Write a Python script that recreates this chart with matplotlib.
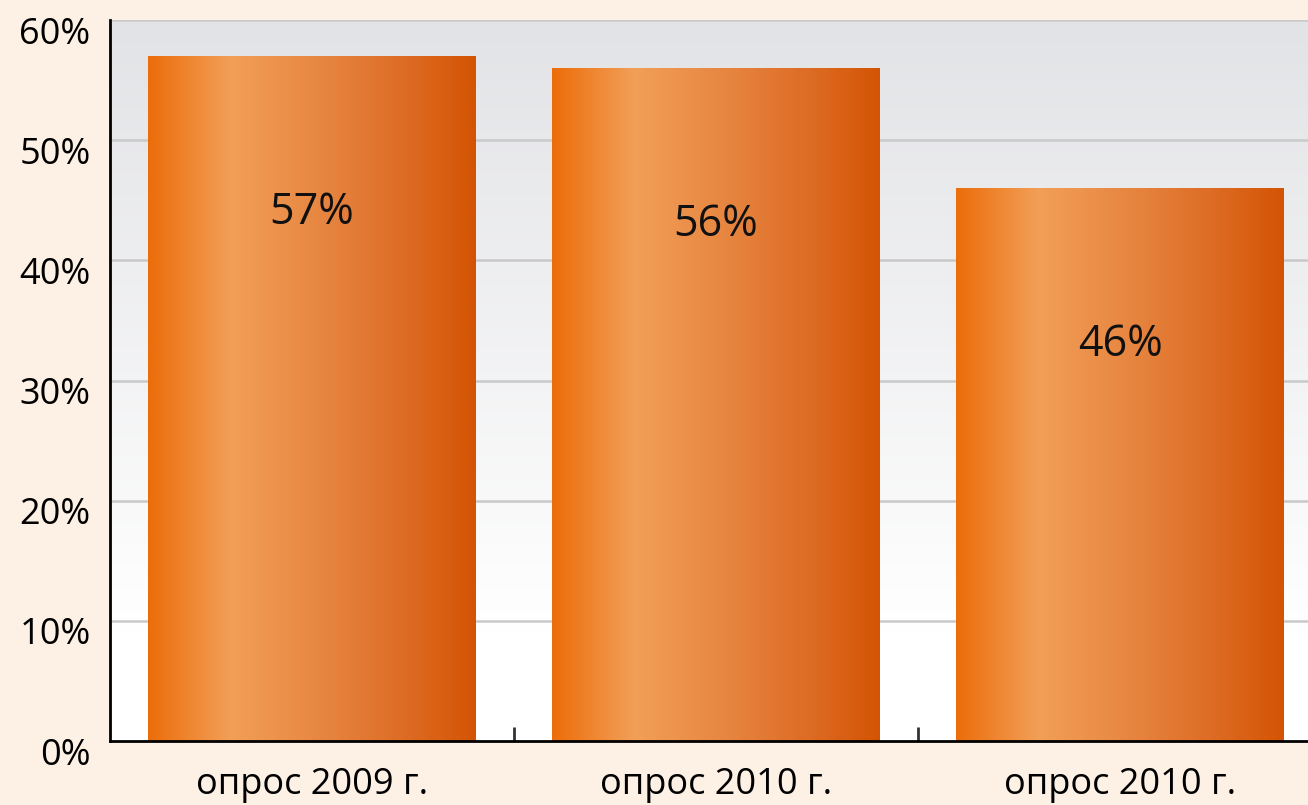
import numpy as np
import matplotlib.pyplot as plt
import matplotlib.transforms as mtransforms
from matplotlib.colors import LinearSegmentedColormap
from matplotlib.patches import Rectangle

categories = ['опрос 2009 г.', 'опрос 2010 г.', 'опрос 2010 г.']
values = [57, 56, 46]
value_labels = ['57%', '56%', '46%']
yticks = [0, 10, 20, 30, 40, 50, 60]
ytick_labels = ['0%', '10%', '20%', '30%', '40%', '50%', '60%']

plt.rcParams['font.family'] = ['Open Sans', 'DejaVu Sans']

fig = plt.figure(figsize=(13.08, 8.05), dpi=100, facecolor='#fdf0e5')
ax = fig.add_axes([0.0841, 0.0795, 0.9159, 0.8955])
ax.set_xlim(-0.5, 2.465)
ax.set_ylim(0, 60)

# plot area gradient: gray at top, white near bottom
bg = LinearSegmentedColormap.from_list('bg', [(0, '#ffffff'), (0.15, '#ffffff'), (1, '#e2e3e6')])
grad = np.linspace(0, 1, 256).reshape(-1, 1)
ax.imshow(grad, cmap=bg, aspect='auto', extent=(-0.5, 2.465, 0, 60), origin='lower', zorder=0)

for y in yticks[1:]:
    ax.axhline(y, color='#c9c9c9', lw=1.8, zorder=1)

# bars with horizontal gradient
bar_cm = LinearSegmentedColormap.from_list('bar', [
    (0, '#ec6d0a'), (0.25, '#f29f58'), (0.55, '#e6843f'), (0.8, '#dd6a22'), (1, '#d45404')])
hgrad = np.linspace(0, 1, 256).reshape(1, -1)
width = 0.81
bars = ax.bar(range(len(values)), values, width=width, color='none', zorder=2)
for b, v, lab in zip(bars, values, value_labels):
    x0 = b.get_x()
    im = ax.imshow(hgrad, cmap=bar_cm, aspect='auto',
                   extent=(x0, x0 + width, 0, v), zorder=2)
    clip = Rectangle((x0, 0), width, v, transform=ax.transData)
    im.set_clip_path(clip)
    ax.text(b.get_x() + width / 2, v - 13, lab, ha='center', va='center',
            fontsize=31, color='#111111', zorder=3)

ax.set_xlim(-0.5, 2.465)
ax.set_ylim(0, 60)

for s in ['top', 'right']:
    ax.spines[s].set_visible(False)
ax.spines['left'].set_linewidth(2)
ax.spines['bottom'].set_linewidth(2)
ax.spines['left'].set_zorder(4)
ax.spines['bottom'].set_zorder(4)

ax.set_yticks(yticks)
ax.set_yticklabels(ytick_labels, fontsize=26)
ax.tick_params(axis='y', length=0, pad=14)
offset = mtransforms.ScaledTranslation(0, -10 / 100, fig.dpi_scale_trans)
for t in ax.get_yticklabels():
    t.set_transform(t.get_transform() + offset)

ax.set_xticks(range(len(categories)))
ax.set_xticklabels(categories, fontsize=26)
ax.tick_params(axis='x', length=0, pad=19)
ax.set_xticks([0.5, 1.5], minor=True)
ax.tick_params(axis='x', which='minor', direction='in', length=10, width=2, color='#333333')

fig.savefig('out.png', dpi=100, facecolor=fig.get_facecolor())
